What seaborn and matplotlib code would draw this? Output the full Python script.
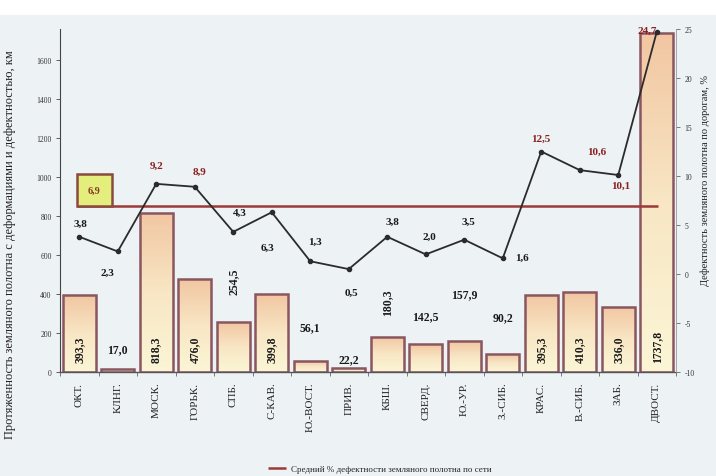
import numpy as np
import pandas as pd
import matplotlib
matplotlib.use("Agg")
import matplotlib.pyplot as plt
from matplotlib.patches import Rectangle
from matplotlib.colors import LinearSegmentedColormap
import seaborn as sns

# Railways
roads = ["ОКТ.", "КЛНГ.", "МОСК.", "ГОРЬК.", "СПБ.", "С-КАВ.", "Ю.-ВОСТ.", "ПРИВ.",
         "КБШ.", "СВЕРД.", "Ю.-УР.", "З.-СИБ.", "КРАС.", "В.-СИБ.", "ЗАБ.", "ДВОСТ."]
# Length of defective roadbed, km (bars, left axis)
length_km = [393.3, 17.0, 818.3, 476.0, 254.5, 399.8, 56.1, 22.2,
             180.3, 142.5, 157.9, 90.2, 395.3, 410.3, 336.0, 1737.8]
# Share of defective roadbed, % (line, right axis)
defect_pct = [3.8, 2.3, 9.2, 8.9, 4.3, 6.3, 1.3, 0.5,
              3.8, 2.0, 3.5, 1.6, 12.5, 10.6, 10.1, 24.7]
# Network-wide average, %
network_avg = 6.9

left_ticks = [0, 200, 400, 600, 800, 1000, 1200, 1400, 1600]
right_ticks = [-10, -5, 0, 5, 10, 15, 20, 25]

# Bar label placement: style and vertical centre in km units
bar_lab_style = ["in", "h", "in", "in", "v", "in", "h", "h",
                 "v", "h", "h", "h", "in", "in", "in", "in"]
bar_lab_y = [118, 118, 118, 118, 467, 118, 230, 67,
             359, 287, 400, 282, 118, 118, 118, 133]
# Line label offsets in pixels (dx, dy)
pct_lab_off = [(1, 13), (-10, -21), (0, 19), (5, 15), (7, 20), (-4, -35), (5, 20), (3, -23),
               (5, 15), (4, 18), (4, 18), (19, 1), (0, 13), (17, 19), (2, -10), (-10, 2)]

df = pd.DataFrame({"road": roads, "km": length_km, "pct": defect_pct})

bg = "#edf2f5"
serif = ["Liberation Serif", "DejaVu Serif"]
sns.set_theme(style="white")
plt.rcParams["font.family"] = serif

fig = plt.figure(figsize=(7.16, 4.77), dpi=100, facecolor=bg)
fig.add_artist(Rectangle((0, 1 - 16 / 477), 1, 16 / 477, transform=fig.transFigure,
                         facecolor="white", edgecolor="none", zorder=0))
ax = fig.add_axes([60 / 716, 1 - 373 / 477, 616 / 716, 343 / 477])
ax.set_facecolor(bg)

edge = "#8a5660"
sns.barplot(data=df, x="road", y="km", ax=ax, width=0.86, color="#f6e0c0",
            edgecolor=edge, linewidth=1.8, saturation=1, zorder=2)

# Vertical peach-to-cream gradient inside every bar
grad_cmap = LinearSegmentedColormap.from_list("bar", ["#fbf6d6", "#f8e6c4", "#f2c6a2"])
grad = np.linspace(0, 1, 256).reshape(-1, 1)
for p in ax.patches:
    x0, y0 = p.get_x(), p.get_y()
    w, h = p.get_width(), p.get_height()
    p.set_facecolor("none")
    im = ax.imshow(grad, cmap=grad_cmap, origin="lower", aspect="auto",
                   extent=[x0, x0 + w, y0, y0 + h], zorder=1.5, interpolation="bilinear")
    im.set_clip_path(p)

ax.set_xlim(-0.5, len(roads) - 0.5)
ax.set_ylim(0, 1760)
ax.set_yticks(left_ticks)
ax.set_yticklabels([str(t) for t in left_ticks], fontsize=5.5, color="#333")
ax.set_xlabel("")
ax.set_ylabel("")
ax.tick_params(axis="y", length=3, width=0.6, color="#444", pad=3, direction="out", left=True)
ax.tick_params(axis="x", length=0, pad=7, labelsize=8, labelcolor="#222")
for lab in ax.get_xticklabels():
    lab.set_rotation(90)
ax.set_xticks(np.arange(-0.5, len(roads), 1), minor=True)
ax.tick_params(axis="x", which="minor", length=3, width=0.6, color="#666", bottom=True)
for s in ["top", "right"]:
    ax.spines[s].set_visible(False)
ax.spines["left"].set_color("#444")
ax.spines["left"].set_linewidth(0.8)
ax.spines["bottom"].set_color("#555")
ax.spines["bottom"].set_linewidth(1.0)

# Bar value labels
for i, (v, st, ly) in enumerate(zip(length_km, bar_lab_style, bar_lab_y)):
    txt = f"{v:.1f}".replace(".", ",")
    rot = 0 if st == "h" else 90
    ax.text(i, ly, txt, rotation=rot, ha="center", va="center", fontsize=8.5,
            fontweight="bold", color="#1a1a1a", zorder=5)

# Secondary axis: share of defective roadbed
ax2 = ax.twinx()
sns.pointplot(data=df, x="road", y="pct", ax=ax2, color="#2b2b2b",
              markersize=3, linewidth=1.3, zorder=4)
ax2.set_xlim(-0.5, len(roads) - 0.5)
ax2.set_ylim(-10, 25)
ax2.set_yticks(right_ticks)
ax2.set_yticklabels([str(t) for t in right_ticks], fontsize=5.5, color="#333")
ax2.tick_params(axis="y", length=3, width=0.6, color="#666", pad=3, right=True)
ax2.set_ylabel("")
ax2.set_xlabel("")
for s in ["top", "left", "bottom"]:
    ax2.spines[s].set_visible(False)
ax2.spines["right"].set_color("#999")
ax2.spines["right"].set_linewidth(0.6)

avg_color = "#9c3a3a"
ax2.hlines(network_avg, -0.06, 15.02, color=avg_color, linewidth=1.8, zorder=3,
           label="Средний % дефектности земляного полотна по сети")
ax2.add_patch(Rectangle((-0.06, network_avg), 0.9, 3.3, facecolor="#e4ee7c",
                        edgecolor="#8a4a3e", linewidth=1.8, zorder=5))
ax2.text(0.39, network_avg + 1.65, f"{network_avg:.1f}".replace(".", ","), ha="center",
         va="center", fontsize=7.5, fontweight="bold", color="#8a3a2a", zorder=6)

for i, (v, off) in enumerate(zip(defect_pct, pct_lab_off)):
    col = "#8b2020" if v > network_avg else "#1a1a1a"
    ax2.annotate(f"{v:.1f}".replace(".", ","), (i, v), xytext=off, textcoords="offset pixels",
                 ha="center", va="center", fontsize=8, fontweight="bold", color=col, zorder=6)

fig.text(10 / 716, 1 - 245 / 477,
         "Протяженность земляного полотна с деформациями и дефектностью, км",
         rotation=90, ha="center", va="center", fontsize=9, color="#222")
fig.text(705 / 716, 1 - 180 / 477, "Дефектность земляного полотна по дорогам, %",
         rotation=90, ha="center", va="center", fontsize=7.5, color="#222")

fig.legend(handles=[ax2.get_legend_handles_labels()[0][0]],
           labels=[ax2.get_legend_handles_labels()[1][0]],
           loc="center", bbox_to_anchor=(380 / 716, 1 - 470 / 477), frameon=False,
           fontsize=6.5, handlelength=2, handletextpad=0.5)

fig.savefig("out.png", dpi=100, facecolor=fig.get_facecolor())
